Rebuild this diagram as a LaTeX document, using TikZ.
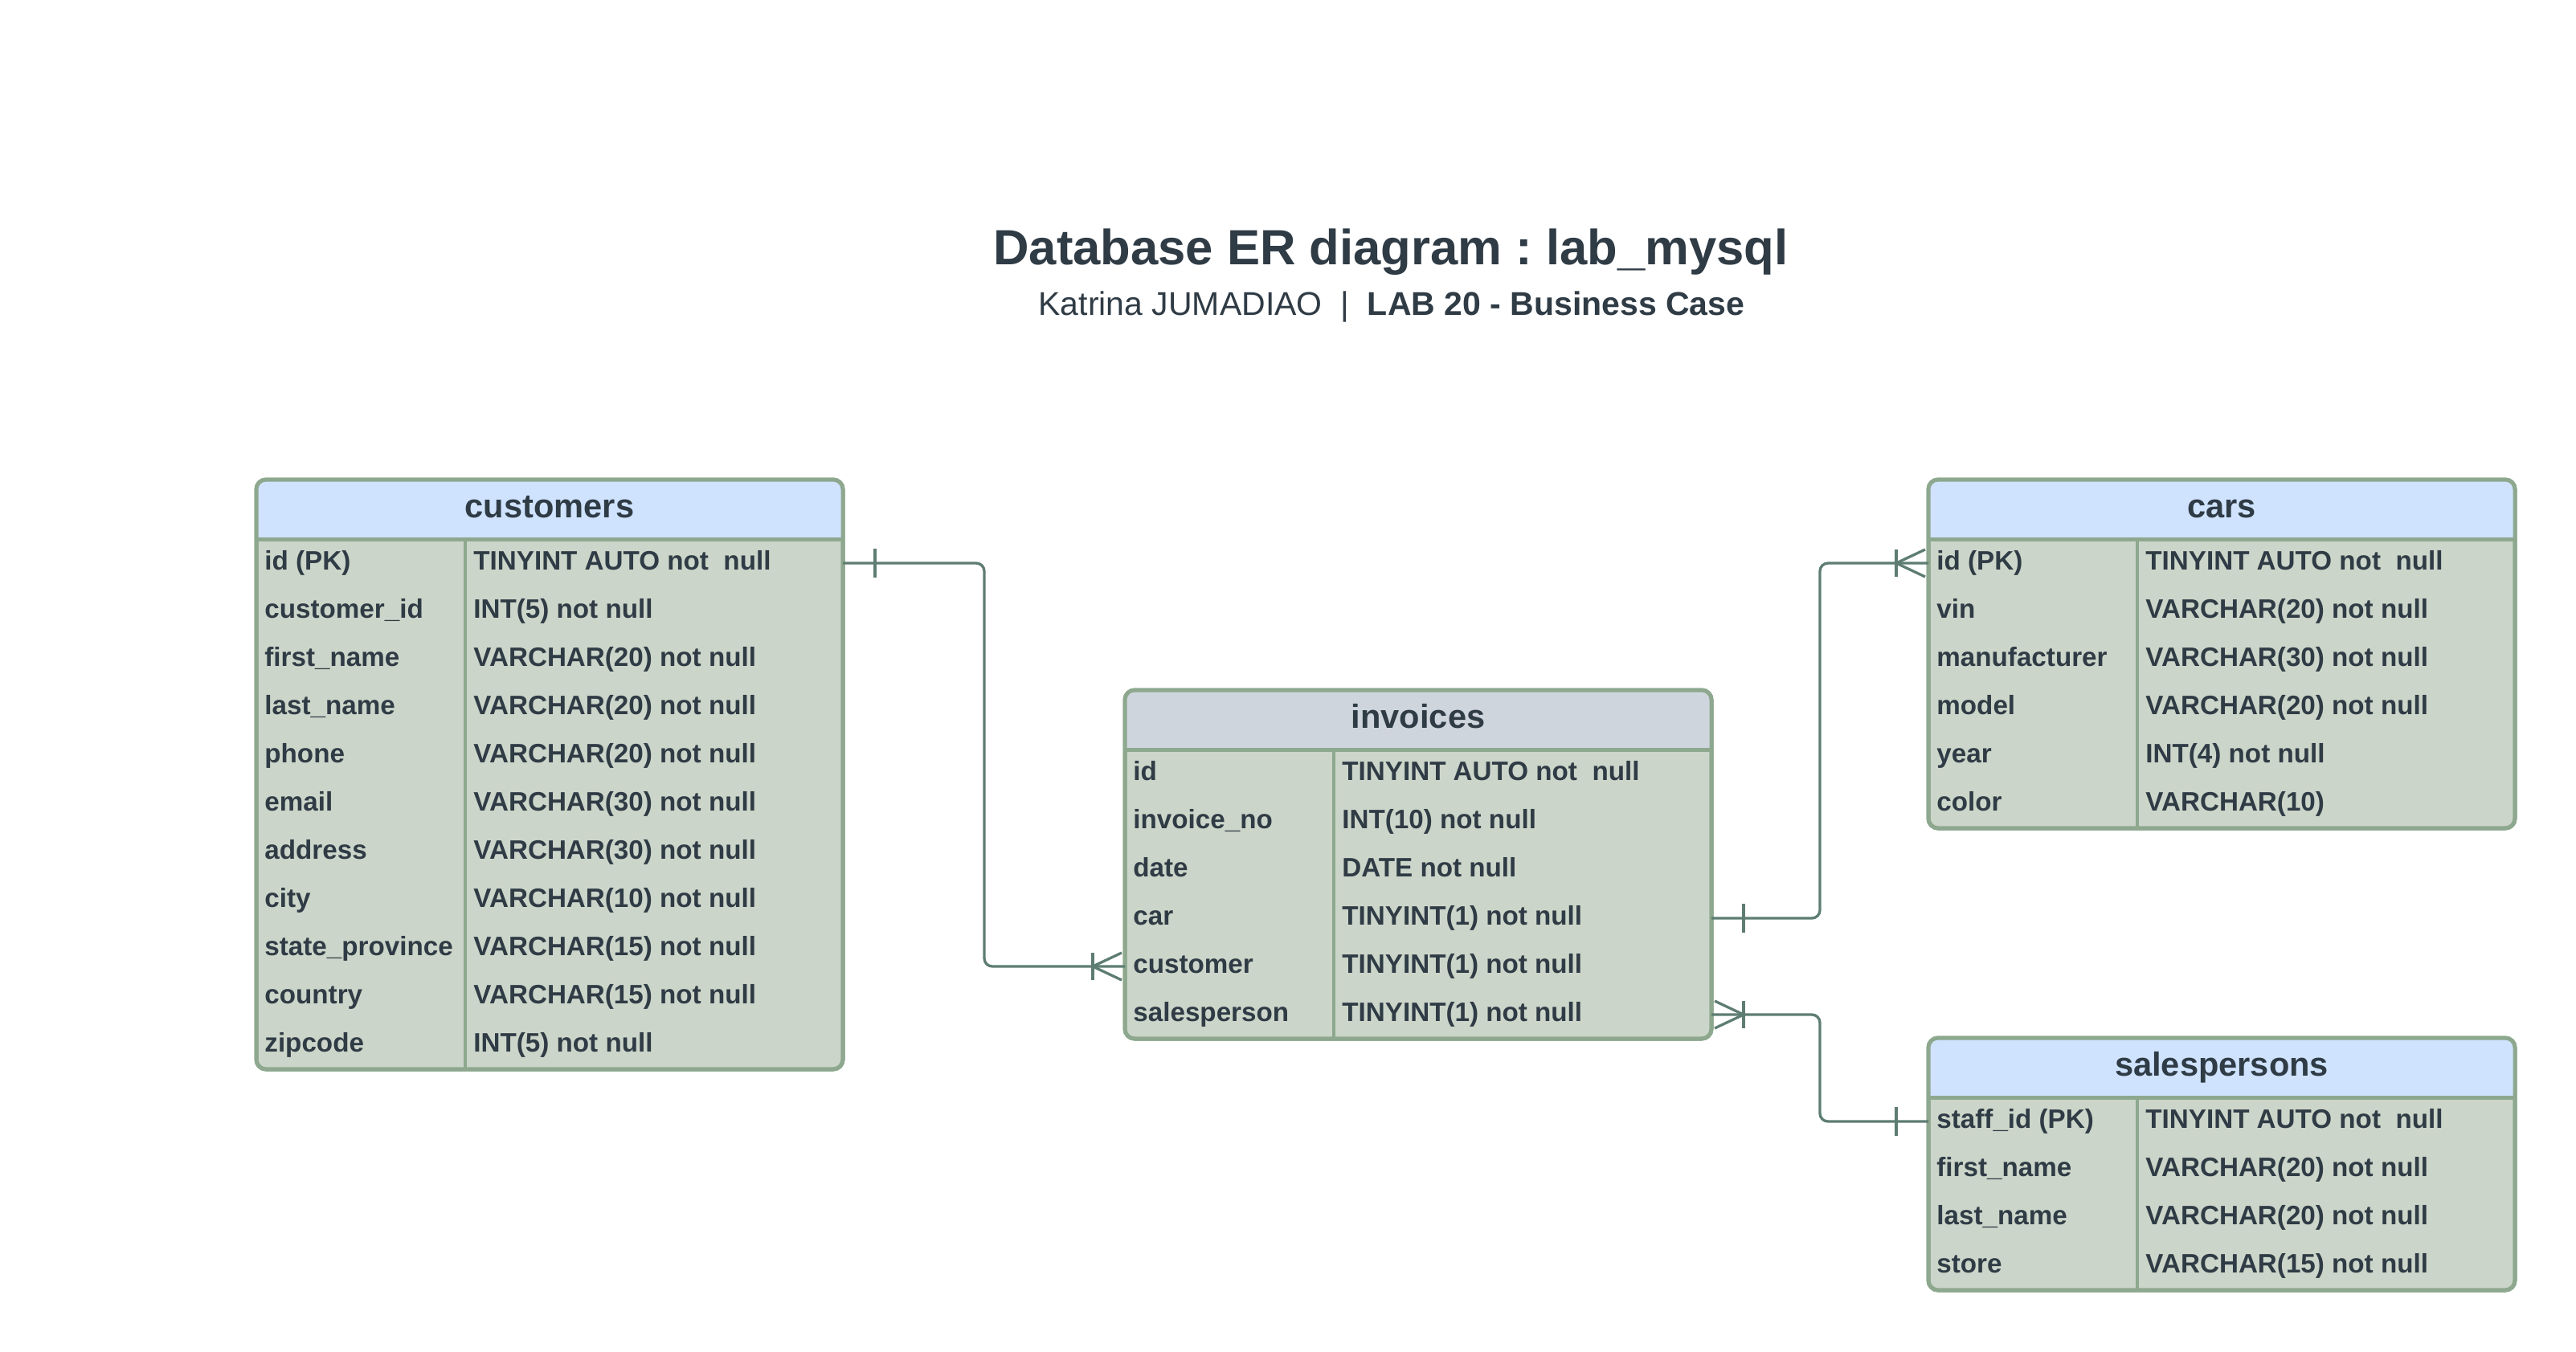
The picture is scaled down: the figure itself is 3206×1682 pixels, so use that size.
\documentclass[tikz,border=0pt]{standalone}
\usepackage{fontspec}
\setmainfont{Liberation Sans}
\usetikzlibrary{calc}
\definecolor{textc}{RGB}{47,59,69}
\definecolor{hdrblue}{RGB}{207,227,254}
\definecolor{hdrgray}{RGB}{207,213,221}
\definecolor{bodyc}{RGB}{204,213,201}
\definecolor{bordc}{RGB}{141,168,142}
\definecolor{connc}{RGB}{94,125,114}
\tikzset{
  conn/.style={draw=connc, line width=1.65pt, line join=round},
  rowbox/.style={minimum width=365pt, minimum height=30pt, inner sep=0pt, outer sep=0pt},
  celltext/.style={font=\fontsize{16.6}{20}\selectfont\bfseries, text=textc, inner sep=0pt, anchor=base west},
  hdrtext/.style={font=\fontsize{20.8}{25}\selectfont\bfseries, text=textc, inner sep=0pt, anchor=base},
  tbox/.style={draw=bordc, fill=bodyc, line width=2.5pt, rounded corners=6pt, minimum width=365pt, inner sep=0pt, outer sep=0pt, anchor=north west},
}
\newcommand\ertable[7]{%
  \node[tbox, minimum height={(37+30*#4)*1pt}] (#1) at (#2,#3) {};
  \begin{scope}
    \clip[rounded corners=6pt] (#1.north west) rectangle (#1.south east);
    \fill[#5] (#1.north west) rectangle ([yshift=-37pt]#1.north east);
  \end{scope}
  \draw[bordc, line width=2.5pt] ([yshift=-37pt]#1.north west) -- ([yshift=-37pt]#1.north east);
  \draw[bordc, line width=2pt] ([xshift=130pt,yshift=-37pt]#1.north west) -- ([xshift=130pt]#1.south west);
  \draw[bordc, line width=2.5pt, rounded corners=6pt] (#1.north west) rectangle (#1.south east);
  \node[hdrtext] (#1-title) at ([yshift=-23.5pt]#1.north) {#6};
  \foreach \fa/\fb [count=\i] in {#7} {
    \node[rowbox] (#1-r\i) at ([yshift={-(22+30*\i)*1pt}]#1.north) {};
    \node[celltext] (#1-a\i) at ([xshift=5pt,yshift=-4.2pt]#1-r\i.west) {\fa};
    \node[celltext] (#1-b\i) at ([xshift=135pt,yshift=-4.2pt]#1-r\i.west) {\fb};
  }
}
\newcommand\onebar[2]{\draw[conn] ($(#1)+(#2*40,-18)$) -- ($(#1)+(#2*40,18)$);}
\newcommand\crowfoot[2]{%
  \draw[conn] ($(#1)+(#2*40,-17)$) -- ($(#1)+(#2*40,17)$);
  \draw[conn] ($(#1)+(#2*4,-17)$) -- ($(#1)+(#2*40,0)$) -- ($(#1)+(#2*4,17)$);}
\begin{document}
\frenchspacing
\begin{tikzpicture}[x=0.5pt,y=-0.5pt]
\fill[white] (0,0) rectangle (3206,1682);
\useasboundingbox (0,0) rectangle (3206,1682);

\node[font=\fontsize{30.8}{36}\selectfont\bfseries, text=textc, anchor=base, inner sep=0pt] (title) at (1731,329) {Database ER diagram : lab\_mysql};
\node[font=\fontsize{20.5}{25}\selectfont, text=textc, anchor=base, inner sep=0pt] (subtitle) at (1732,392) {Katrina JUMADIAO\ \ |\ \ {\bfseries LAB 20 - Business Case}};

\ertable{customers}{319}{597}{11}{hdrblue}{customers}{
  id (PK)/TINYINT AUTO not\ \ null,
  customer\_id/INT(5) not null,
  first\_name/VARCHAR(20) not null,
  last\_name/VARCHAR(20) not null,
  phone/VARCHAR(20) not null,
  email/VARCHAR(30) not null,
  address/VARCHAR(30) not null,
  city/VARCHAR(10) not null,
  state\_province/VARCHAR(15) not null,
  country/VARCHAR(15) not null,
  zipcode/INT(5) not null}

\ertable{invoices}{1400}{859}{6}{hdrgray}{invoices}{
  id/TINYINT AUTO not\ \ null,
  invoice\_no/INT(10) not null,
  date/DATE not null,
  car/TINYINT(1) not null,
  customer/TINYINT(1) not null,
  salesperson/TINYINT(1) not null}

\ertable{cars}{2400}{597}{6}{hdrblue}{cars}{
  id (PK)/TINYINT AUTO not\ \ null,
  vin/VARCHAR(20) not null,
  manufacturer/VARCHAR(30) not null,
  model/VARCHAR(20) not null,
  year/INT(4) not null,
  color/VARCHAR(10)}

\ertable{salespersons}{2400}{1292}{4}{hdrblue}{salespersons}{
  staff\_id (PK)/TINYINT AUTO not\ \ null,
  first\_name/VARCHAR(20) not null,
  last\_name/VARCHAR(20) not null,
  store/VARCHAR(15) not null}

\coordinate (v1) at (1225,0);
\coordinate (v2) at (2265,0);
\draw[conn, rounded corners=5pt] (customers-r1.east) -| (v1 |- invoices-r5.west) -- (invoices-r5.west);
\draw[conn, rounded corners=5pt] (invoices-r4.east) -| (v2 |- cars-r1.west) -- (cars-r1.west);
\draw[conn, rounded corners=5pt] (invoices-r6.east) -| (v2 |- salespersons-r1.west) -- (salespersons-r1.west);

\onebar{customers-r1.east}{1}
\crowfoot{invoices-r5.west}{-1}
\onebar{invoices-r4.east}{1}
\crowfoot{cars-r1.west}{-1}
\crowfoot{invoices-r6.east}{1}
\onebar{salespersons-r1.west}{-1}
\end{tikzpicture}
\end{document}
